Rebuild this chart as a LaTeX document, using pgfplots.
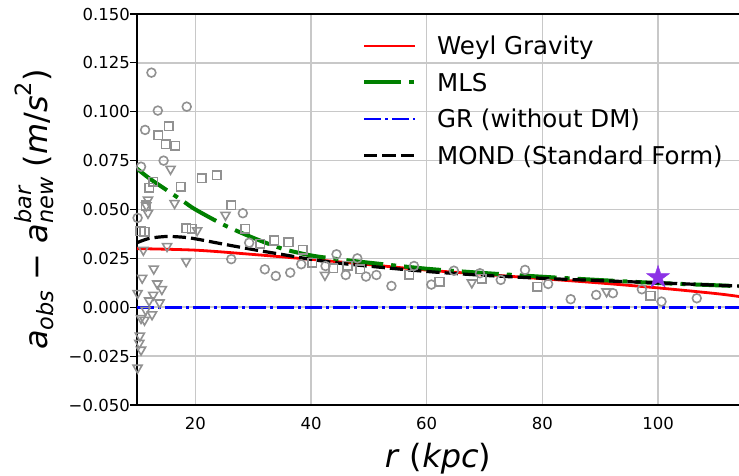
\documentclass[border=0pt]{standalone}
\usepackage{fontspec}
\setmainfont{DejaVu Sans}
\usepackage{pgfplots}
\pgfplotsset{compat=1.18}

\definecolor{mkgray}{RGB}{145,145,145}
\definecolor{gridgray}{RGB}{200,200,200}
\definecolor{starpurple}{RGB}{140,50,230}
\definecolor{mplgreen}{RGB}{0,128,0}

\newcommand{\lsub}[1]{\raisebox{-0.2em}{\fontsize{22.4}{22.4}\selectfont #1}}
\newcommand{\lsup}[1]{\raisebox{0.5em}{\fontsize{22.4}{22.4}\selectfont #1}}

\pgfdeclareplotmark{fstar}{%
  \pgfpathmoveto{\pgfpointpolar{90}{\pgfplotmarksize}}%
  \pgfpathlineto{\pgfpointpolar{126}{0.382\pgfplotmarksize}}%
  \pgfpathlineto{\pgfpointpolar{162}{\pgfplotmarksize}}%
  \pgfpathlineto{\pgfpointpolar{198}{0.382\pgfplotmarksize}}%
  \pgfpathlineto{\pgfpointpolar{234}{\pgfplotmarksize}}%
  \pgfpathlineto{\pgfpointpolar{270}{0.382\pgfplotmarksize}}%
  \pgfpathlineto{\pgfpointpolar{306}{\pgfplotmarksize}}%
  \pgfpathlineto{\pgfpointpolar{342}{0.382\pgfplotmarksize}}%
  \pgfpathlineto{\pgfpointpolar{18}{\pgfplotmarksize}}%
  \pgfpathlineto{\pgfpointpolar{54}{0.382\pgfplotmarksize}}%
  \pgfpathclose
  \pgfusepathqfillstroke
}

\begin{document}
\begin{tikzpicture}
\begin{axis}[
  scale only axis, width=602pt, height=391pt,
  xmin=9.9, xmax=114, ymin=-0.05, ymax=0.15,
  axis x line*=box, axis y line*=left,
  axis line style={line width=1.4pt, black, -},
  xtick={20,40,60,80,100}, xticklabels={20,40,60,80,100},
  ytick={-0.05,-0.025,0,0.025,0.05,0.075,0.1,0.125,0.15},
  yticklabels={−0.050,−0.025,0.000,0.025,0.050,0.075,0.100,0.125,0.150},
  scaled y ticks=false,
  tick align=outside, major tick length=7pt,
  ytick pos=left,
  xtick style={draw=none},
  ytick style={line width=1.2pt, black},
  grid=major, major grid style={gridgray, line width=1.5pt},
  ticklabel style={font=\fontsize{16.5}{18}\selectfont},
  yticklabel style={anchor=east, inner sep=0pt},
  xticklabel style={anchor=north, inner sep=0pt, yshift=-5pt},
  xlabel={\textit{r} (\textit{kpc})},
  ylabel={\itshape a\lsub{obs} \upshape−\itshape{} a\rlap{\lsup{bar}}\lsub{new} \upshape(\itshape m\upshape/\itshape s\upshape\lsup{2})},
  label style={font=\fontsize{32}{36}\selectfont},
  x label style={at={(axis description cs:0.5,0)}, anchor=base, yshift=-62pt, inner sep=0pt},
  y label style={at={(axis description cs:-0.1711,0.5)}, anchor=center, inner sep=0pt},
  legend cell align=left,
  legend style={draw=none, fill=none, inner sep=0pt,
    at={(0.3737,0.9496)}, anchor=north west,
    font=\fontsize{24.5}{24.5}\selectfont, row sep=12.5pt,
    nodes={inner sep=0pt, text height=20.75pt, text depth=3.25pt},
    /tikz/every odd column/.append style={column sep=20pt}},
  legend image code/.code={\draw[#1] (0pt,0pt) -- (51pt,0pt);},
]
% circles
\addplot[only marks, mark=o, mark size=4.4pt, mkgray, line width=1.6pt, forget plot] coordinates {
(12.4,0.1200)(13.5,0.1006)(18.5,0.1026)(11.3,0.0907)(14.5,0.0750)(10.6,0.0719)
(10.0,0.0457)(28.2,0.0481)(29.3,0.0330)(26.2,0.0246)(32.0,0.0194)(33.9,0.0160)
(36.4,0.0177)(38.3,0.0220)(42.5,0.0211)(44.4,0.0271)(46.0,0.0165)(48.0,0.0250)
(49.5,0.0157)(51.3,0.0165)(53.9,0.0109)(57.8,0.0211)(60.8,0.0116)(64.7,0.0187)
(69.2,0.0174)(72.8,0.0140)(77.0,0.0191)(81.0,0.0119)(84.9,0.0041)(89.3,0.0063)
(92.2,0.0072)(97.2,0.0092)(100.6,0.0029)(106.7,0.0046)
};
% squares
\addplot[only marks, mark=square, mark size=4.3pt, mkgray, line width=1.6pt, forget plot] coordinates {
(15.4,0.0927)(13.6,0.0881)(14.9,0.0834)(16.5,0.0825)(12.7,0.0642)(12.0,0.0610)
(17.5,0.0617)(21.1,0.0661)(23.7,0.0675)(11.4,0.0520)(10.5,0.0390)(11.2,0.0385)
(18.4,0.0404)(19.4,0.0402)(26.2,0.0523)(28.6,0.0401)(31.2,0.0324)(33.6,0.0341)
(36.1,0.0332)(38.6,0.0293)(40.2,0.0228)(43.8,0.0200)(46.3,0.0211)(48.5,0.0194)
(57.0,0.0165)(62.2,0.0130)(69.5,0.0145)(79.1,0.0105)(98.7,0.0058)
};
% triangles down
\addplot[only marks, mark=triangle, mark size=5.2pt, mark options={rotate=180}, mkgray, line width=1.6pt, forget plot] coordinates {
(15.7,0.0707)(11.8,0.0550)(11.5,0.0520)(11.8,0.0482)(16.4,0.0532)(20.3,0.0393)
(25.2,0.0472)(11.0,0.0293)(15.1,0.0312)(18.4,0.0235)(12.8,0.0197)(10.8,0.0150)
(13.4,0.0121)(14.2,0.0092)(12.7,0.0063)(12.0,0.0034)(13.8,0.0024)(10.0,0.0072)
(11.4,-0.0014)(12.5,-0.0037)(10.6,-0.0056)(11.2,-0.0065)(10.4,-0.0146)(10.3,-0.0183)
(10.6,-0.0218)(10.0,-0.0310)(42.4,0.0165)(67.8,0.0126)(91.1,0.0080)
};
% Weyl gravity
\addplot[red, line width=2.8pt, smooth] coordinates {
(9.9,0.0300)(20,0.0292)(30,0.0270)(40,0.0245)(50,0.0218)(60,0.0190)
(70,0.0168)(80,0.0146)(90,0.0124)(100,0.0099)(110,0.0070)(114,0.0055)
};
\addlegendentry{Weyl Gravity}
% MLS
\addplot[mplgreen, line width=4pt, dash pattern=on 37pt off 8pt on 5pt off 8pt, smooth] coordinates {
(9.9,0.0709)(12,0.0660)(15,0.0600)(18,0.0540)(20,0.0500)(25,0.0420)(30,0.0355)
(35,0.0300)(40,0.0265)(45,0.0245)(50,0.0228)(60,0.0197)(70,0.0175)(80,0.0156)
(90,0.0139)(100,0.0124)(114,0.0108)
};
\addlegendentry{MLS}
% GR
\addplot[blue, line width=2.8pt, dash pattern=on 17.3pt off 3.6pt on 3.3pt off 3.8pt] coordinates {
(9.9,0)(114,0)
};
\addlegendentry{GR (without DM)}
% MOND
\addplot[black, line width=3.2pt, dash pattern=on 13.3pt off 5pt, smooth] coordinates {
(9.9,0.0330)(12,0.0352)(15,0.0362)(18,0.0358)(20,0.0350)(25,0.0322)(30,0.0295)
(35,0.0270)(40,0.0245)(45,0.0225)(50,0.0210)(60,0.0183)(70,0.0163)(80,0.0148)
(90,0.0136)(100,0.0125)(114,0.0108)
};
\addlegendentry{MOND (Standard Form)}
% star
\addplot[only marks, mark=fstar, mark size=12pt, draw=starpurple, fill=starpurple, forget plot] coordinates {(100,0.0153)};
\end{axis}
\pgfresetboundingbox
\path[use as bounding box] (current axis.south west) ++(-137pt,-71pt) rectangle ([yshift=14pt]current axis.north east);
\end{tikzpicture}
\end{document}
